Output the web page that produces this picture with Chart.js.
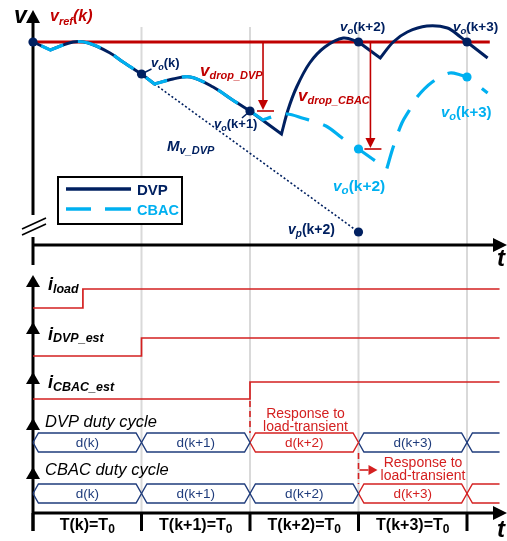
<!DOCTYPE html>
<html><head><meta charset="utf-8">
<script src="https://cdn.jsdelivr.net/npm/chart.js@4.4.1/dist/chart.umd.min.js"></script>
<style>html,body{margin:0;padding:0;background:#fff;overflow:hidden}canvas{display:block}</style>
</head><body>
<canvas id="c" width="507" height="541" style="width:507px;height:541px"></canvas>
<script>
// ================= DATA =================
// time in units of the switching period T0 (k = 0)
const periods = [0, 1, 2, 3, 4];
const periodLabels = ['T(k)=T', 'T(k+1)=T', 'T(k+2)=T', 'T(k+3)=T'];
const tEnd = 4.3;

// output voltage, deviation from v_ref (v_ref = 0)
const vrefT = [0, 4.21];
const vrefV = [0, 0];

const dvpT = [0, 0.16, 0.37, 0.51, 0.71, 0.83, 1.0, 1.12, 1.29, 1.45, 1.66, 1.84, 2.0, 2.29, 2.35, 2.43, 2.55, 2.69, 2.86, 3.0, 3.2, 3.32, 3.45, 3.63, 3.82, 3.94, 4.0, 4.19];
const dvpV = [0, -8, 0, -1, -11, -20, -32, -42, -37, -35, -45, -58, -69, -92, -68, -45, -21, -5, 4, 0, -16, 0, 10, 16, 14, 5, 0, -16];
const dvpCorners = [1, 6, 7, 12, 13, 19, 20, 26];

const cbacT = [0, 0.16, 0.37, 0.51, 0.71, 0.83, 1.0, 1.12, 1.29, 1.45, 1.66, 1.84, 2.0, 2.12, 2.23, 2.34, 2.48, 2.70, 2.85, 3.0, 3.26, 3.32, 3.40, 3.47, 3.54, 3.68, 3.84, 3.94, 4.0, 4.19];
const cbacV = [0, -8, 0, -1, -11, -20, -32, -42, -37, -35, -45, -58, -69, -78, -74, -72, -76, -84, -96, -107, -127, -105, -81, -68, -55, -40, -31, -33, -35, -51];
const cbacCorners = [1, 6, 7, 12, 13, 19, 20, 28];

const dvpDotT = [0, 1, 2, 3, 4];
const dvpDotV = [0, -32, -69, 0, 0];
const cbacDotT = [3, 4];
const cbacDotV = [-107, -35];
const vpT = [3];
const vpV = [-190];
const mvT = [1.12, 3];
const mvV = [-42, -190];
const dropDvpT = 2.12;
const dropCbacT = 3.11;

// estimated / load currents (0 = before step, 1 = after step)
const iloadT = [0, 0.46, tEnd];
const iloadV = [0, 1, 1];
const idvpT = [0, 1, tEnd];
const idvpV = [0, 1, 1];
const icbacT = [0, 2, tEnd];
const icbacV = [0, 1, 1];

// duty cycles
const dutyEdges = [0, 1, 2, 3, 4, tEnd];
const dvpDutyLabels = ['d(k)', 'd(k+1)', 'd(k+2)', 'd(k+3)', ''];
const dvpDutyResponse = [false, false, true, false, false];
const cbacDutyLabels = ['d(k)', 'd(k+1)', 'd(k+2)', 'd(k+3)', ''];
const cbacDutyResponse = [false, false, false, true, true];

// ================= LAYOUT / STYLE =================
const W = 507, H = 541;
const L = {
  x0: 33, tpx: 108.5, vref: 42,
  gridTop: 27, vTip: 10, breakTop: 215, breakBot: 237, vLowEnd: 265, tAxisY: 245,
  iload: {lo: 308, hi: 289, tip: 275}, idvp: {lo: 356, hi: 338, tip: 322}, icbac: {lo: 399, hi: 382, tip: 372},
  ddvp: {mid: 442.5, top: 433, tip: 418}, dcbac: {mid: 493.5, top: 484, tip: 467},
  bottomAxis: 513, tickEnd: 531
};
const NAVY = '#002060', LBLUE = '#00B0F0', RED = '#C00000', IRED = '#D42020', DNAVY = '#1F3C7C', GRID = '#D9D9D9';
const F = '"Liberation Sans", Arial, Helvetica, sans-serif';
const it = s => `italic bold ${s}px ${F}`;
const bd = s => `bold ${s}px ${F}`;
const rg = s => `${s}px ${F}`;
const itr = s => `italic ${s}px ${F}`;

function yAxis(px0, v0, px1, v1) {
  const k = (v1 - v0) / (px1 - px0);
  return {type: 'linear', display: false, min: v0 + (H - px0) * k, max: v0 + (0 - px0) * k};
}
const pts = (T, V) => T.map((t, i) => ({x: t, y: V[i]}));
function cornered(T, V, C) {
  const out = [];
  T.forEach((t, i) => { out.push({x: t, y: V[i]}); if (C.includes(i)) out.push({x: t, y: V[i]}); });
  return out;
}
const lineDs = (data, axis, color, width, extra) => Object.assign({
  type: 'line', data, yAxisID: axis, borderColor: color, borderWidth: width,
  pointRadius: 0, fill: false, tension: 0, order: 50
}, extra || {});
const dotDs = (data, axis, color) => ({
  type: 'line', data, yAxisID: axis, showLine: false, pointRadius: 4.6,
  pointBackgroundColor: color, pointBorderColor: color, pointBorderWidth: 0, order: 10
});

const datasets = [
  lineDs(pts(vrefT, vrefV), 'yv', RED, 3, {order: 90}),
  lineDs(pts(mvT, mvV), 'yv', NAVY, 1.6, {borderDash: [2, 2.2], order: 85}),
  lineDs(cornered(dvpT, dvpV, dvpCorners), 'yv', NAVY, 3, {tension: 0.35, order: 60}),
  lineDs(cornered(cbacT, cbacV, cbacCorners), 'yv', LBLUE, 3.2, {tension: 0.35, borderDash: [24, 15], borderDashOffset: 30, order: 55}),
  dotDs(pts(dvpDotT, dvpDotV), 'yv', NAVY),
  dotDs(pts(cbacDotT, cbacDotV), 'yv', LBLUE),
  dotDs(pts(vpT, vpV), 'yv', NAVY),
  lineDs(pts(iloadT, iloadV), 'yi1', IRED, 1.7, {stepped: 'before', order: 40}),
  lineDs(pts(idvpT, idvpV), 'yi2', IRED, 1.7, {stepped: 'before', order: 40}),
  lineDs(pts(icbacT, icbacV), 'yi3', IRED, 1.7, {stepped: 'before', order: 40})
];
const w = 0.05;
function dutyDatasets(labels, resp, axis) {
  labels.forEach((lab, i) => {
    const a = dutyEdges[i], b = dutyEdges[i + 1];
    const data = (i === labels.length - 1)
      ? [{x: b, y: 1}, {x: a + w, y: 1}, {x: a, y: 0}, {x: a + w, y: -1}, {x: b, y: -1}]
      : [{x: a, y: 0}, {x: a + w, y: 1}, {x: b - w, y: 1}, {x: b, y: 0}, {x: b - w, y: -1}, {x: a + w, y: -1}, {x: a, y: 0}];
    datasets.push(lineDs(data, axis, resp[i] ? IRED : DNAVY, 1.4, {order: 40}));
  });
}
dutyDatasets(dvpDutyLabels, dvpDutyResponse, 'yd1');
dutyDatasets(cbacDutyLabels, cbacDutyResponse, 'yd2');

// ================= DRAW HELPERS =================
function seg(ctx, x1, y1, x2, y2) { ctx.beginPath(); ctx.moveTo(x1, y1); ctx.lineTo(x2, y2); ctx.stroke(); }
function arrowUp(ctx, x, tip, len, half) { ctx.beginPath(); ctx.moveTo(x, tip); ctx.lineTo(x - half, tip + len); ctx.lineTo(x + half, tip + len); ctx.closePath(); ctx.fill(); }
function arrowDown(ctx, x, tip, len, half) { ctx.beginPath(); ctx.moveTo(x, tip); ctx.lineTo(x - half, tip - len); ctx.lineTo(x + half, tip - len); ctx.closePath(); ctx.fill(); }
function arrowRight(ctx, tip, y, len, half) { ctx.beginPath(); ctx.moveTo(tip, y); ctx.lineTo(tip - len, y - half); ctx.lineTo(tip - len, y + half); ctx.closePath(); ctx.fill(); }
function rich(ctx, x, y, parts, align) {
  let tw = 0;
  parts.forEach(p => { ctx.font = p[1]; tw += ctx.measureText(p[0]).width; });
  let cx = align === 'center' ? x - tw / 2 : x;
  ctx.textAlign = 'left'; ctx.textBaseline = 'alphabetic';
  parts.forEach(p => { ctx.font = p[1]; ctx.fillStyle = p[2]; ctx.fillText(p[0], cx, y + (p[3] || 0)); cx += ctx.measureText(p[0]).width; });
}

const decor = {
  id: 'decor',
  beforeDatasetsDraw(chart) {
    const ctx = chart.ctx, X = t => chart.scales.x.getPixelForValue(t);
    const ax = X(0);
    ctx.save();
    // vertical period grid lines
    ctx.strokeStyle = GRID; ctx.lineWidth = 2;
    periods.slice(1).forEach(t => seg(ctx, X(t), L.gridTop, X(t), L.bottomAxis));
    ctx.strokeStyle = '#000'; ctx.fillStyle = '#000'; ctx.lineWidth = 3;
    // v axis with break
    seg(ctx, ax, L.vTip + 8, ax, L.breakTop);
    arrowUp(ctx, ax, L.vTip, 13, 7);
    seg(ctx, ax, L.breakBot, ax, L.vLowEnd);
    ctx.lineWidth = 1.6;
    seg(ctx, ax - 11, L.breakTop + 14, ax + 13, L.breakTop + 3);
    seg(ctx, ax - 11, L.breakTop + 20, ax + 13, L.breakTop + 9);
    ctx.lineWidth = 3;
    // time axis (top)
    seg(ctx, ax, L.tAxisY, W - 12, L.tAxisY);
    arrowRight(ctx, W, L.tAxisY, 14, 7);
    // stacked lower axes
    seg(ctx, ax, L.iload.tip + 8, ax, L.tickEnd);
    [L.iload.tip, L.idvp.tip, L.icbac.tip, L.ddvp.tip, L.dcbac.tip].forEach(tp => arrowUp(ctx, ax, tp, 12, 7));
    // bottom time axis
    seg(ctx, ax, L.bottomAxis, W - 12, L.bottomAxis);
    arrowRight(ctx, W, L.bottomAxis, 14, 7);
    periods.forEach(t => seg(ctx, X(t), L.bottomAxis, X(t), L.tickEnd));
    ctx.restore();
  },
  afterDatasetsDraw(chart) {
    const ctx = chart.ctx, s = chart.scales, X = t => s.x.getPixelForValue(t);
    const Yv = v => s.yv.getPixelForValue(v);
    ctx.save();
    // axis names
    rich(ctx, 14, 23, [['v', it(23), '#000']]);
    rich(ctx, 497, 266, [['t', it(24), '#000']]);
    rich(ctx, 497, 537, [['t', it(24), '#000']]);
    rich(ctx, 50, 21, [['v', it(16), RED], ['ref', it(11), RED, 4], ['(k)', it(16), RED]]);

    // drop arrows
    ctx.strokeStyle = RED; ctx.fillStyle = RED; ctx.lineWidth = 1.6;
    [[dropDvpT, dvpDotV[2]], [dropCbacT, cbacDotV[0]]].forEach(([t, v]) => {
      const x = X(t), y0 = Yv(0), y1 = Yv(v);
      seg(ctx, x, y0, x, y1 - 6);
      arrowDown(ctx, x, y1 - 1, 10, 5);
      seg(ctx, x - 6, y1, x + 11, y1);
    });

    // leader lines
    ctx.strokeStyle = NAVY; ctx.lineWidth = 1.5;
    seg(ctx, X(1), Yv(dvpDotV[1]), X(1) + 10, Yv(dvpDotV[1]) - 5);
    seg(ctx, X(2), Yv(dvpDotV[2]), X(2) - 8, Yv(dvpDotV[2]) + 7);

    // voltage labels
    const vo = (x, y, idx, size, col, sub) => rich(ctx, x, y, [['v', it(size), col], [sub || 'o', it(size - 4), col, 3], [idx, bd(size), col]]);
    vo(151, 67, '(k)', 13, NAVY);
    vo(214, 128, '(k+1)', 13, NAVY);
    vo(340, 31, '(k+2)', 13.5, NAVY);
    vo(453, 31, '(k+3)', 13.5, NAVY);
    vo(441, 117, '(k+3)', 15, LBLUE);
    vo(333, 191, '(k+2)', 15.5, LBLUE);
    vo(288, 234, '(k+2)', 14, NAVY, 'p');
    rich(ctx, 200, 76, [['v', it(17), RED], ['drop_DVP', it(11), RED, 3]]);
    rich(ctx, 298, 101, [['v', it(17), RED], ['drop_CBAC', it(11), RED, 3]]);
    rich(ctx, 167, 151, [['M', it(15), NAVY], ['v_DVP', it(11), NAVY, 3]]);

    // legend
    ctx.fillStyle = '#fff'; ctx.fillRect(58, 177, 124, 47);
    ctx.strokeStyle = '#000'; ctx.lineWidth = 2; ctx.strokeRect(58, 177, 124, 47);
    ctx.lineWidth = 3.5; ctx.strokeStyle = NAVY; seg(ctx, 66, 189, 131, 189);
    ctx.strokeStyle = LBLUE; seg(ctx, 66, 209, 91, 209); seg(ctx, 105, 209, 131, 209);
    rich(ctx, 137, 195, [['DVP', bd(15), NAVY]]);
    rich(ctx, 137, 215, [['CBAC', bd(14.5), LBLUE]]);

    // current labels
    const il = (y, sub) => rich(ctx, 48, y, [['i', it(18), '#000'], [sub, it(12.5), '#000', 2.5]]);
    il(290, 'load'); il(339.5, 'DVP_est'); il(388, 'CBAC_est');

    // duty cycle labels
    rich(ctx, 45, 427, [['DVP duty cycle', itr(16.5), '#000']]);
    rich(ctx, 45, 475, [['CBAC duty cycle', itr(16.5), '#000']]);
    ctx.textAlign = 'center'; ctx.textBaseline = 'middle'; ctx.font = rg(13.5);
    const dl = (labels, resp, axis) => labels.forEach((lab, i) => {
      if (!lab) return;
      ctx.fillStyle = resp[i] ? IRED : DNAVY;
      ctx.fillText(lab, X((dutyEdges[i] + dutyEdges[i + 1]) / 2), s[axis].getPixelForValue(0) + 1);
    });
    dl(dvpDutyLabels, dvpDutyResponse, 'yd1');
    dl(cbacDutyLabels, cbacDutyResponse, 'yd2');

    // response markers
    ctx.strokeStyle = IRED; ctx.fillStyle = IRED; ctx.lineWidth = 1.6; ctx.setLineDash([6, 4]);
    const x2 = X(dvpDutyResponse.indexOf(true)), x3 = X(cbacDutyResponse.indexOf(true));
    seg(ctx, x2, s.yi3.getPixelForValue(0) + 2, x2, s.yd1.getPixelForValue(1));
    seg(ctx, x3, s.yd1.getPixelForValue(-1) + 1, x3, s.yd2.getPixelForValue(1));
    ctx.setLineDash([]);
    seg(ctx, x3 + 1, 470, x3 + 10, 470);
    arrowRight(ctx, x3 + 19, 470, 9, 5);
    rich(ctx, 305.5, 417.5, [['Response to', rg(14), IRED]], 'center');
    rich(ctx, 305.5, 430.5, [['load-transient', rg(14), IRED]], 'center');
    rich(ctx, 423, 467, [['Response to', rg(14), IRED]], 'center');
    rich(ctx, 423, 480, [['load-transient', rg(14), IRED]], 'center');

    // period labels
    periodLabels.forEach((lab, i) => {
      rich(ctx, X(periods[i] + 0.5), 530, [[lab, bd(16), '#000'], ['0', bd(12), '#000', 3]], 'center');
    });
    ctx.restore();
  }
};

new Chart(document.getElementById('c'), {
  type: 'line',
  data: {datasets},
  options: {
    responsive: false, animation: false, devicePixelRatio: 1, events: [],
    layout: {padding: 0, autoPadding: false},
    plugins: {legend: {display: false}, tooltip: {enabled: false}, title: {display: false}},
    scales: {
      x: {type: 'linear', display: false, min: -L.x0 / L.tpx, max: (W - L.x0) / L.tpx},
      yv: yAxis(L.vref, 0, L.vref + 1, -1),
      yi1: yAxis(L.iload.lo, 0, L.iload.hi, 1),
      yi2: yAxis(L.idvp.lo, 0, L.idvp.hi, 1),
      yi3: yAxis(L.icbac.lo, 0, L.icbac.hi, 1),
      yd1: yAxis(L.ddvp.mid, 0, L.ddvp.top, 1),
      yd2: yAxis(L.dcbac.mid, 0, L.dcbac.top, 1)
    }
  },
  plugins: [decor]
});
</script>
</body></html>
